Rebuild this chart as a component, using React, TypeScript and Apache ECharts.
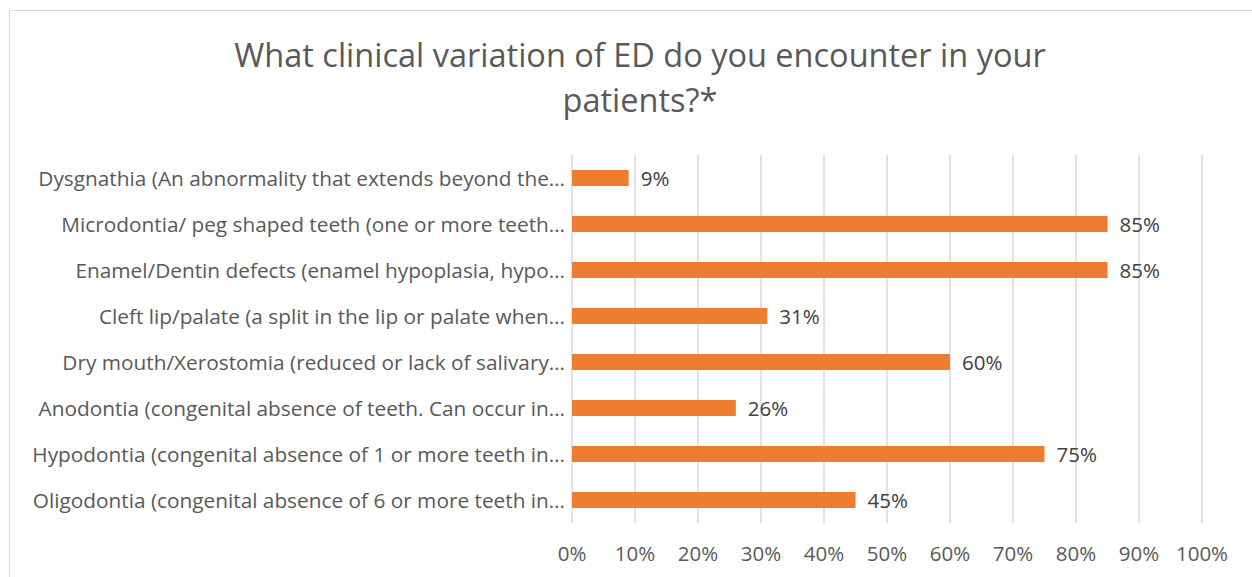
import React, { useEffect, useRef } from "react";
import * as echarts from "echarts";

const categories = [
  "Dysgnathia (An abnormality that extends beyond the…",
  "Microdontia/ peg shaped teeth (one or more teeth…",
  "Enamel/Dentin defects (enamel hypoplasia, hypo…",
  "Cleft lip/palate (a split in the lip or palate when…",
  "Dry mouth/Xerostomia (reduced or lack of salivary…",
  "Anodontia (congenital absence of teeth. Can occur in…",
  "Hypodontia (congenital absence of 1 or more teeth in…",
  "Oligodontia (congenital absence of 6 or more teeth in…",
];
const values = [9, 85, 85, 31, 60, 26, 75, 45];
const titleText = "What clinical variation of ED do you encounter in your\npatients?*";

const FONT = "'Open Sans', 'Noto Sans', sans-serif";
const GREY = "#595959";

export default function App() {
  const ref = useRef<HTMLDivElement>(null);
  useEffect(() => {
    if (!ref.current) return;
    const chart = echarts.init(ref.current, undefined, { renderer: "svg" });
    chart.setOption({
      animation: false,
      backgroundColor: "#ffffff",
      title: {
        text: titleText,
        left: 635,
        top: 27,
        textAlign: "center",
        textStyle: { fontFamily: FONT, fontSize: 32.5, fontWeight: "normal", color: GREY, lineHeight: 45 },
      },
      graphic: [
        {
          type: "rect",
          shape: { x: 9.5, y: 10.5, width: 1260, height: 600 },
          style: { fill: "none", stroke: "#d9d9d9", lineWidth: 1 },
          silent: true,
          z: 0,
        },
      ],
      grid: { left: 572, right: 50, top: 155, bottom: 54, containLabel: false },
      xAxis: {
        type: "value",
        min: 0,
        max: 100,
        interval: 10,
        axisLine: { show: false },
        axisTick: { show: false },
        splitLine: { show: true, lineStyle: { color: "#d9d9d9", width: 1.5 } },
        axisLabel: {
          formatter: (v: number) => v + "%",
          fontFamily: FONT,
          fontSize: 20.5,
          color: GREY,
          margin: 19,
        },
      },
      yAxis: {
        type: "category",
        data: categories,
        inverse: true,
        axisLine: { show: false },
        axisTick: { show: false },
        axisLabel: { fontFamily: FONT, fontSize: 20.8, color: GREY, margin: 7 },
      },
      series: [
        {
          type: "bar",
          data: values,
          barWidth: 16,
          itemStyle: { color: "#ed7d31" },
          label: {
            show: true,
            position: "right",
            distance: 12,
            formatter: "{c}%",
            fontFamily: FONT,
            fontSize: 20.5,
            color: "#404040",
          },
        },
      ],
    });
    return () => chart.dispose();
  }, []);
  return (
    <div
      ref={ref}
      style={{ position: "absolute", left: 0, top: 0, width: 1252, height: 577 }}
    />
  );
}
